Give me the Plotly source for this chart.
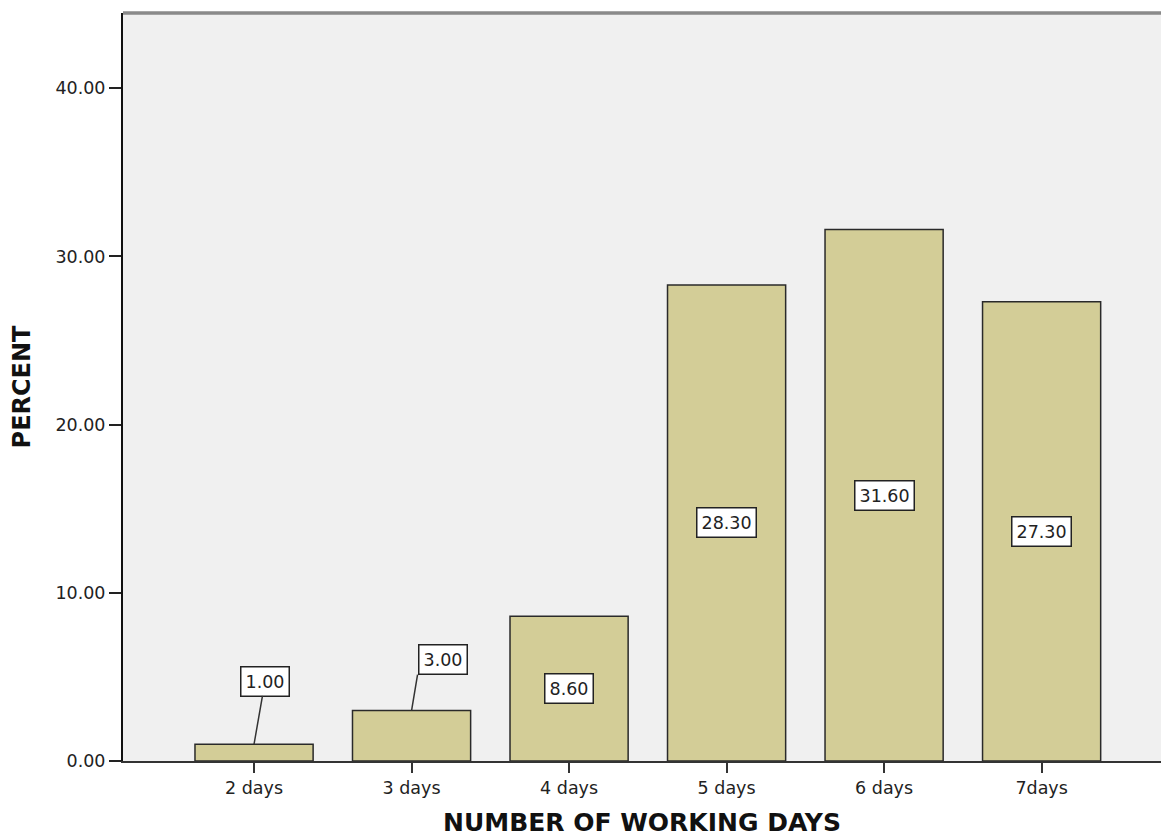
import plotly.graph_objects as go

# Share of respondents by number of working days per week
categories = ["2 days", "3 days", "4 days", "5 days", "6 days", "7days"]
percent = [1.00, 3.00, 8.60, 28.30, 31.60, 27.30]
y_ticks = [0, 10, 20, 30, 40]

BAR_FILL = "#d3cd97"
PLOT_BG = "#f0f0f0"
TEXT = "#222222"
FONT = "DejaVu Sans"

fig = go.Figure(
    go.Bar(
        x=categories,
        y=percent,
        width=0.75,
        marker=dict(color=BAR_FILL, line=dict(color="#2a2a2a", width=1.5)),
        hoverinfo="x+y",
    )
)

# Value labels: inside the bar at half height, or above it with a leader line
# when the bar is too short to hold the box.
for i, (cat, val) in enumerate(zip(categories, percent)):
    label = f"{val:.2f}"
    common = dict(
        x=cat,
        text=label,
        font=dict(family=FONT, size=17.5, color=TEXT),
        bgcolor="white",
        bordercolor="#222222",
        borderwidth=1.5,
        borderpad=4,
    )
    if val >= 5:
        fig.add_annotation(y=val / 2, showarrow=False, **common)
    elif i == 0:
        fig.add_annotation(
            y=val, showarrow=True, arrowhead=0, arrowwidth=1.5,
            arrowcolor="#333333", ax=11, ay=-63, **common
        )
    else:
        fig.add_annotation(
            y=val, showarrow=True, arrowhead=0, arrowwidth=1.5,
            arrowcolor="#333333", ax=6, ay=-36, xanchor="left",
            yanchor="bottom", **common
        )

# Frame line along the top of the plot area
fig.add_shape(
    type="line", xref="paper", yref="paper", x0=0, x1=1, y0=1, y1=1,
    line=dict(color="#8a8a8a", width=3.5),
)

fig.update_layout(
    width=1161,
    height=837,
    margin=dict(l=123, r=0, t=13, b=76),
    paper_bgcolor="white",
    plot_bgcolor=PLOT_BG,
    showlegend=False,
    font=dict(family=FONT, size=17, color=TEXT),
    bargap=0.25,
)

fig.update_xaxes(
    type="category",
    range=[-0.832, 5.758],
    showline=True,
    linecolor="#333333",
    linewidth=2,
    ticks="outside",
    ticklen=10,
    tickwidth=1.5,
    tickcolor="#333333",
    showgrid=False,
    zeroline=False,
    tickfont=dict(family=FONT, size=17.5, color=TEXT),
    title=dict(
        text="<b>NUMBER OF WORKING DAYS</b>",
        font=dict(family=FONT, size=25, color="#111111"),
        standoff=17,
    ),
)

fig.update_yaxes(
    range=[0, 44.47],
    tickvals=y_ticks,
    tickformat=".2f",
    showline=True,
    linecolor="#111111",
    linewidth=2,
    ticks="outside",
    ticklen=12,
    tickwidth=2,
    tickcolor="#222222",
    showgrid=False,
    zeroline=False,
    tickfont=dict(family=FONT, size=17.5, color=TEXT),
    title=dict(
        text="<b>PERCENT</b>",
        font=dict(family=FONT, size=24, color="#111111"),
        standoff=18,
    ),
)

fig.write_html("out.html")
